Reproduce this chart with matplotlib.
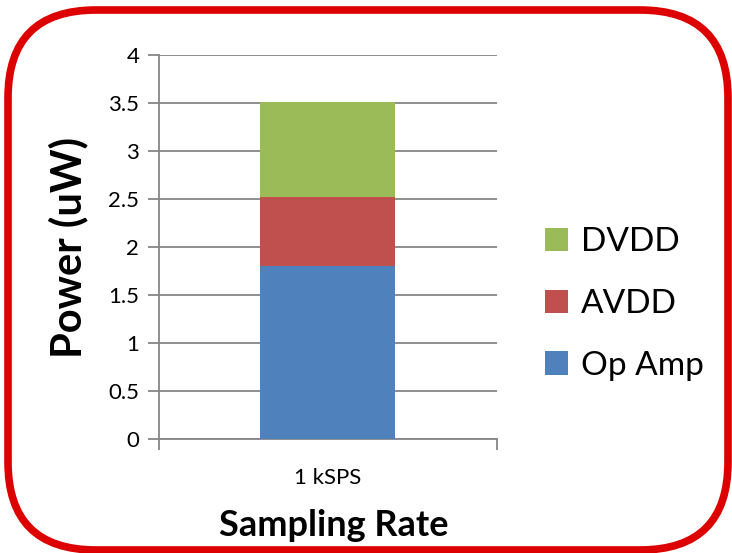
import matplotlib
matplotlib.use("Agg")
import matplotlib.pyplot as plt
from matplotlib.patches import FancyBboxPatch, Patch

plt.rcParams['font.family'] = ['Lato', 'DejaVu Sans']

categories = ["1 kSPS"]
series_names = ["Op Amp", "AVDD", "DVDD"]
op_amp = [1.8]
avdd = [0.72]
dvdd = [0.99]
colors = ["#4F81BD", "#C0504D", "#9BBB59"]
yticks = [0, 0.5, 1, 1.5, 2, 2.5, 3, 3.5, 4]
ytick_labels = ["0", "0.5", "1", "1.5", "2", "2.5", "3", "3.5", "4"]

fig = plt.figure(figsize=(7.32, 5.53), dpi=100)
ax = fig.add_axes([0.2168, 0.2056, 0.4618, 0.6949])

x = range(len(categories))
bottom = [0.0] * len(categories)
handles = []
for name, vals, c in zip(series_names, [op_amp, avdd, dvdd], colors):
    ax.bar(x, vals, width=0.4, bottom=bottom, color=c, zorder=3)
    bottom = [b + v for b, v in zip(bottom, vals)]
    handles.append(Patch(facecolor=c, label=name))

ax.set_xlim(-0.5, 0.5)
ax.set_ylim(0, 4)
ax.set_yticks(yticks)
ax.set_yticklabels(ytick_labels, fontsize=16)
ax.yaxis.grid(True, color="#868686", linewidth=1.3, zorder=0)
ax.set_axisbelow(True)
for s in ["top", "right"]:
    ax.spines[s].set_visible(False)
for s in ["left", "bottom"]:
    ax.spines[s].set_color("#868686")
    ax.spines[s].set_linewidth(1.3)
ax.tick_params(axis="y", length=8, width=1.3, color="#868686", pad=6)
ax.set_xticks([-0.5, 0.5], minor=True)
ax.tick_params(axis="x", which="minor", length=8, width=1.3, color="#868686")
ax.set_xticks(list(x))
ax.set_xticklabels(categories, fontsize=16)
ax.tick_params(axis="x", which="major", length=0, pad=21)

fig.text(0.4563, 1 - 526 / 553, "Sampling Rate", fontsize=26, fontweight="bold",
         ha="center", va="center")
fig.text(68 / 732, 1 - 247 / 553, "Power (uW)", fontsize=30, fontweight="bold",
         ha="center", va="center", rotation=90)

fig.legend(handles=handles[::-1], loc="center left",
           bbox_to_anchor=(528 / 732, 1 - 304 / 553), frameon=False,
           fontsize=24, handlelength=0.7, handleheight=0.7, labelspacing=0.95,
           handletextpad=0.4, borderpad=0)

border = FancyBboxPatch((8, 3), 720, 540,
                        boxstyle="round,pad=0,rounding_size=88",
                        transform=None, facecolor="none",
                        edgecolor="#DD0000", linewidth=5.5, zorder=10)
fig.patches.append(border)

fig.savefig("out.png", dpi=100)
